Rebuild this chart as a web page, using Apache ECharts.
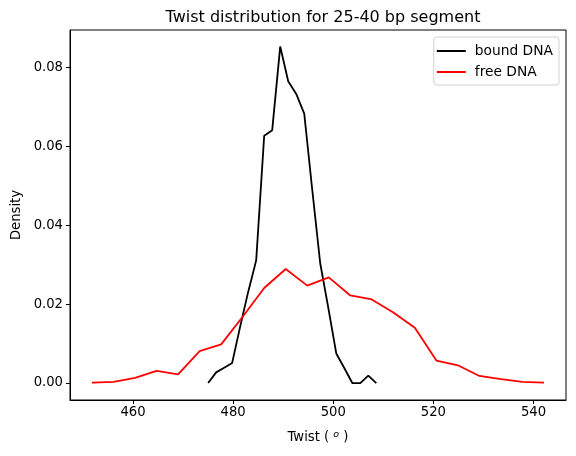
<!DOCTYPE html>
<html>
<head>
<meta charset="utf-8">
<script src="https://cdn.jsdelivr.net/npm/echarts@6/dist/echarts.min.js"></script>
<style>html,body{margin:0;padding:0;background:#fff}#c{width:576px;height:456px}</style>
</head>
<body>
<div id="c"></div>
<script>
var xTicks = [460, 480, 500, 520, 540];
var yTicks = [0, 0.02, 0.04, 0.06, 0.08];

var boundTwist = [475.0, 476.6, 478.2, 479.8, 481.4, 483.0, 484.6, 486.2, 487.8, 489.4, 491.0, 492.6, 494.2, 495.8, 497.4, 499.0, 500.6, 502.2, 503.8, 505.4, 507.0, 508.6];
var boundDensity = [0, 0.0027, 0.0039, 0.0051, 0.0143, 0.0231, 0.0311, 0.0627, 0.0641, 0.0853, 0.0765, 0.0733, 0.0683, 0.0490, 0.0303, 0.0191, 0.0075, 0.0038, 0, 0, 0.0019, 0];

var freeTwist = [451.8, 456.1, 460.4, 464.7, 469.0, 473.3, 477.6, 481.9, 486.2, 490.5, 494.8, 499.1, 503.4, 507.7, 512.0, 516.3, 520.6, 524.9, 529.2, 533.5, 537.8, 542.1];
var freeDensity = [0.0001, 0.0003, 0.0013, 0.0031, 0.0022, 0.0081, 0.0098, 0.0168, 0.0241, 0.0289, 0.0247, 0.0268, 0.0222, 0.0212, 0.0179, 0.0140, 0.0057, 0.0045, 0.0018, 0.0010, 0.0003, 0.0001];

function pairs(xs, ys) { return xs.map(function (x, i) { return [x, ys[i]]; }); }

var font = 'DejaVu Sans';
var fs = 13.2;
var chart = echarts.init(document.getElementById('c'), null, {renderer: 'canvas'});
chart.setOption({
  animation: false,
  backgroundColor: '#fff',
  title: {
    text: 'Twist distribution for 25-40 bp segment',
    left: 318, top: 5, textAlign: 'center',
    textStyle: {fontFamily: font, fontSize: 16, fontWeight: 'normal', color: '#000'}
  },
  grid: {left: 70, top: 30, right: 10, bottom: 56, show: true, borderColor: '#000', borderWidth: 1, backgroundColor: 'transparent'},
  legend: {
    orient: 'vertical', right: 17, top: 37,
    data: ['bound DNA', 'free DNA'],
    icon: 'rect', itemWidth: 29, itemHeight: 2, itemGap: 5,
    padding: [6, 6, 5, 3],
    borderColor: '#d0d0d0', borderWidth: 1, borderRadius: 3,
    backgroundColor: 'rgba(255,255,255,0.8)',
    textStyle: {fontFamily: font, fontSize: 13.8, color: '#000', padding: [0, 0, 0, 4], lineHeight: 16}
  },
  xAxis: {
    type: 'value', min: 447.4, max: 546.5,
    name: 'Twist ( {sup|o} )', nameLocation: 'middle', nameGap: 30,
    nameTextStyle: {fontFamily: font, fontSize: fs, color: '#000',
      rich: {sup: {fontFamily: font, fontSize: 9.5, fontStyle: 'italic', verticalAlign: 'top', padding: [0, 0, 6, 0], color: '#000'}}},
    splitLine: {show: false},
    axisLine: {show: true, onZero: false, lineStyle: {color: '#000', width: 1}},
    axisTick: {show: true, length: 4, lineStyle: {color: '#000'}, customValues: xTicks},
    axisLabel: {color: '#000', fontFamily: font, fontSize: fs, margin: 6, customValues: xTicks}
  },
  yAxis: {
    type: 'value', min: -0.0043, max: 0.0895,
    name: 'Density', nameLocation: 'middle', nameGap: 47, nameRotate: 90,
    nameTextStyle: {fontFamily: font, fontSize: fs, color: '#000'},
    splitLine: {show: false},
    axisLine: {show: true, onZero: false, lineStyle: {color: '#000', width: 1}},
    axisTick: {show: true, length: 4, lineStyle: {color: '#000'}, customValues: yTicks},
    axisLabel: {color: '#000', fontFamily: font, fontSize: fs, margin: 7, customValues: yTicks,
      formatter: function (v) { return v.toFixed(2); }}
  },
  series: [
    {name: 'bound DNA', type: 'line', data: pairs(boundTwist, boundDensity), showSymbol: false, symbol: 'none',
      lineStyle: {color: '#000', width: 1.8}, itemStyle: {color: '#000'}},
    {name: 'free DNA', type: 'line', data: pairs(freeTwist, freeDensity), showSymbol: false, symbol: 'none',
      lineStyle: {color: '#ff0000', width: 1.8}, itemStyle: {color: '#ff0000'}}
  ]
});
</script>
</body>
</html>
